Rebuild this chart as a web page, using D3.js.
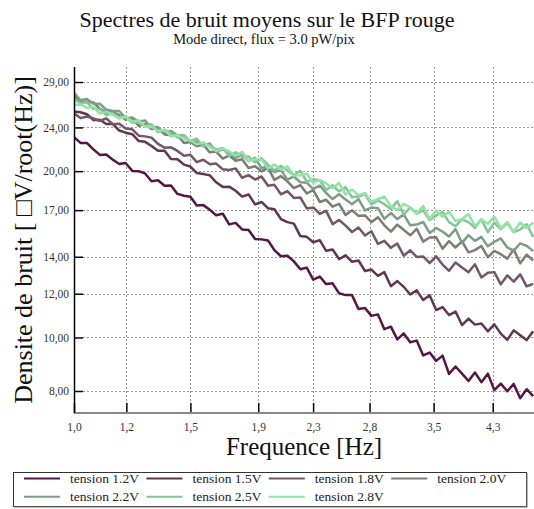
<!DOCTYPE html>
<html>
<head>
<meta charset="utf-8">
<script src="https://cdn.jsdelivr.net/npm/d3@7"></script>
<style>
  body { margin: 0; background: #fff; }
  svg { display: block; }
  text { font-family: "Liberation Serif", "DejaVu Serif", serif; }
</style>
</head>
<body>
<svg id="chart" width="534" height="509"></svg>
<script>
// Frequency bins (Hz), log spaced
const frequencies = [1.000,1.023,1.046,1.070,1.094,1.119,1.145,1.171,1.197,1.225,
  1.253,1.281,1.310,1.340,1.371,1.402,1.434,1.467,1.500,1.534,
  1.569,1.605,1.641,1.679,1.717,1.756,1.796,1.837,1.879,1.922,
  1.966,2.010,2.056,2.103,2.151,2.200,2.250,2.301,2.354,2.407,
  2.462,2.518,2.576,2.634,2.694,2.756,2.818,2.883,2.948,3.016,
  3.084,3.154,3.226,3.300,3.375,3.452,3.531,3.611,3.693,3.777,
  3.864,3.952,4.042,4.134,4.228,4.324,4.423,4.524,4.627,4.732,4.840,4.950];

const tensions = ["tension 1.2V","tension 1.5V","tension 1.8V","tension 2.0V",
  "tension 2.2V","tension 2.5V","tension 2.8V"];

// Mean noise density for each bias voltage
const s12 = [23.04,22.50,22.49,21.90,21.40,21.43,20.98,20.60,20.69,20.02,19.99,19.81,
  19.18,19.26,18.82,18.84,18.19,18.05,17.98,17.34,17.36,17.02,16.64,16.75,
  16.02,16.12,15.69,15.65,15.08,15.05,14.98,14.39,14.03,14.06,13.73,13.29,
  13.38,12.72,12.89,12.49,12.53,12.02,11.93,11.93,11.26,11.31,10.94,11.01,
  10.35,10.46,9.92,10.17,9.80,9.87,9.28,9.39,9.07,9.27,8.59,8.86,
  8.60,8.34,8.64,8.30,8.60,8.03,8.25,7.99,8.24,7.76,8.06,7.83];
const s15 = [25.65,25.56,25.36,24.75,24.78,24.35,24.34,23.69,23.48,23.33,22.67,22.60,
  22.21,21.78,21.78,21.04,21.02,20.55,20.39,19.84,19.76,19.65,19.09,18.73,
  18.75,18.43,17.99,18.15,17.41,17.59,17.13,17.06,16.38,16.17,16.07,15.26,
  15.21,14.87,15.00,14.35,14.43,13.86,14.08,13.71,13.78,13.19,13.27,12.93,
  13.13,12.38,12.65,12.35,11.96,12.17,11.69,11.92,11.21,11.35,10.98,11.14,
  10.53,10.82,10.55,10.60,10.26,10.56,10.16,9.90,10.30,10.09,9.89,10.26];
const s18 = [25.45,24.95,25.11,24.91,24.66,24.91,24.32,24.38,23.90,23.81,23.19,23.12,
  23.00,22.41,22.05,22.09,21.76,21.32,21.41,20.77,20.97,20.58,20.64,20.16,
  20.09,20.23,19.46,19.67,19.31,19.56,18.82,18.89,18.16,18.41,17.89,17.92,
  17.12,17.19,16.73,16.95,16.04,16.32,15.94,15.52,15.81,15.29,15.57,14.77,
  14.96,14.53,14.79,14.06,14.38,13.99,14.02,13.63,14.02,13.55,13.20,13.67,
  13.39,13.12,13.57,12.84,13.10,13.13,12.48,12.95,12.62,13.01,12.37,12.50];
const s20 = [27.42,26.74,26.71,26.63,25.95,25.53,25.60,25.25,24.79,24.95,24.15,24.35,
  23.85,23.91,23.31,23.22,23.24,22.49,22.58,22.20,22.33,21.63,21.70,21.08,
  21.35,20.88,21.02,20.26,20.41,19.98,20.27,19.28,19.59,19.17,18.63,18.87,
  18.22,18.49,17.59,17.75,17.25,17.45,16.66,16.99,16.60,16.63,16.17,16.50,
  15.96,15.54,16.00,15.66,15.31,15.73,14.91,15.17,15.18,14.48,14.94,14.55,
  14.93,14.26,14.39,14.64,13.97,14.34,14.15,13.89,14.43,13.62,14.12,13.78];
const s22 = [27.71,26.87,27.03,26.49,26.49,25.84,25.69,25.70,24.94,25.01,24.60,24.70,
  23.96,24.03,23.41,23.64,23.20,23.24,22.56,22.63,22.25,22.44,21.67,21.92,
  21.61,21.14,21.43,20.85,21.13,20.25,20.42,19.92,20.11,19.31,19.56,19.10,
  19.06,18.56,18.84,18.26,17.80,18.16,17.77,17.42,17.80,16.99,17.18,17.14,
  16.39,16.80,16.37,16.71,15.96,16.01,16.18,15.46,15.78,15.55,15.23,15.71,
  14.83,15.32,14.96,15.21,14.62,14.90,15.11,14.55,14.36,14.80,14.65,14.33];
const s25 = [26.99,26.57,26.66,25.91,25.93,25.27,25.45,25.04,25.10,24.45,24.51,24.13,
  24.31,23.53,23.77,23.44,23.01,23.19,22.68,22.89,22.16,22.28,21.88,22.03,
  21.30,21.64,21.23,21.25,20.75,21.10,20.52,20.05,20.45,20.06,19.66,20.03,
  19.15,19.33,19.26,18.48,18.86,18.39,18.69,17.94,17.99,18.16,17.41,17.70,
  17.43,17.09,17.64,16.68,17.19,16.75,16.99,16.32,16.63,16.86,16.17,15.90,
  16.35,16.17,15.79,16.37,15.50,16.13,15.71,16.11,15.51,15.68,16.03,15.21];
const s28 = [26.37,26.41,26.03,26.17,25.42,25.63,25.30,24.90,25.06,24.58,24.73,24.03,
  24.10,23.67,23.75,23.11,23.24,22.84,22.75,22.36,22.55,22.11,21.75,22.00,
  21.70,21.33,21.69,20.86,21.03,20.97,20.22,20.57,20.13,20.40,19.65,19.66,
  19.79,19.05,19.28,19.00,18.64,19.03,18.14,18.52,18.10,18.26,17.61,17.81,
  17.99,17.29,17.00,17.44,17.20,16.77,17.29,16.39,16.98,16.53,16.88,16.25,
  16.38,16.73,15.91,16.35,16.06,16.55,15.77,16.17,15.53,16.15,15.78,16.13];

const seriesValues = [s12, s15, s18, s20, s22, s25, s28];
const colors = ["#551545", "#613651", "#725866", "#7d7c76", "#7f9d86", "#84c598", "#93e3a6"];

const yTicks = [8, 10, 12, 14, 17, 20, 24, 29];
const xTicks = [1.0, 1.2, 1.5, 1.9, 2.3, 2.8, 3.5, 4.3];

const plot = { left: 74, right: 534, top: 67, bottom: 413 };

const svg = d3.select("#chart");

const x = d3.scaleLog().domain([1, 5]).range([74, 536]);
const y = d3.scaleLog().domain([8, 29]).range([391, 82]);

// Titles
svg.append("text").attr("x", 267).attr("y", 27).attr("text-anchor", "middle")
  .attr("font-size", 22).attr("fill", "#111")
  .text("Spectres de bruit moyens sur le BFP rouge");
svg.append("text").attr("x", 264).attr("y", 44).attr("text-anchor", "middle")
  .attr("font-size", 14.5).attr("fill", "#111")
  .text("Mode direct, flux = 3.0 pW/pix");

// Dotted grid
const grid = svg.append("g").attr("stroke", "#999").attr("stroke-width", 1)
  .attr("stroke-dasharray", "2,2");
grid.selectAll("line.h").data(yTicks).join("line").attr("class", "h")
  .attr("x1", plot.left + 9).attr("x2", plot.right)
  .attr("y1", d => Math.round(y(d)) + 0.5).attr("y2", d => Math.round(y(d)) + 0.5);
grid.selectAll("line.v").data(xTicks.filter(d => d > 1)).join("line").attr("class", "v")
  .attr("y1", plot.top).attr("y2", plot.bottom - 10)
  .attr("x1", d => Math.round(x(d)) + 0.5).attr("x2", d => Math.round(x(d)) + 0.5);

// Spectra
svg.append("clipPath").attr("id", "clip").append("rect")
  .attr("x", plot.left).attr("y", plot.top)
  .attr("width", plot.right - plot.left).attr("height", plot.bottom - plot.top);

const line = d3.line().x((d, i) => x(frequencies[i])).y(d => y(d));
svg.append("g").attr("clip-path", "url(#clip)")
  .selectAll("path").data(seriesValues).join("path")
  .attr("d", line)
  .attr("fill", "none")
  .attr("stroke", (d, i) => colors[i])
  .attr("stroke-width", 2.5)
  .attr("stroke-linejoin", "round");

// Axes
const fmtY = d => d3.format(".2f")(d).replace(".", ",");
const fmtX = d => d3.format(".1f")(d).replace(".", ",");

const yAxis = svg.append("g").attr("transform", `translate(${plot.left},0)`)
  .call(d3.axisLeft(y).tickValues(yTicks).tickFormat(fmtY).tickSize(-9).tickPadding(5));
yAxis.select(".domain").remove();
yAxis.selectAll(".tick line").attr("stroke", "#000").attr("stroke-width", 1.5);
yAxis.selectAll(".tick text").attr("font-size", 11.5).attr("fill", "#333")
  .attr("font-family", "Liberation Serif, serif");

const xAxis = svg.append("g").attr("transform", `translate(0,${plot.bottom})`)
  .call(d3.axisBottom(x).tickValues(xTicks).tickFormat(fmtX).tickSize(-10).tickPadding(10));
xAxis.select(".domain").remove();
xAxis.selectAll(".tick line").attr("stroke", "#000").attr("stroke-width", 1.5);
xAxis.selectAll(".tick text").attr("font-size", 11.5).attr("fill", "#333")
  .attr("font-family", "Liberation Serif, serif");

svg.append("line").attr("x1", plot.left).attr("x2", plot.right)
  .attr("y1", plot.bottom).attr("y2", plot.bottom)
  .attr("stroke", "#888").attr("stroke-width", 2);
svg.append("line").attr("x1", plot.left + 0.5).attr("x2", plot.left + 0.5)
  .attr("y1", plot.top).attr("y2", plot.bottom)
  .attr("stroke", "#000").attr("stroke-width", 1.5);

// Axis titles
svg.append("text").attr("x", 304).attr("y", 455).attr("text-anchor", "middle")
  .attr("font-size", 25).attr("fill", "#111").text("Frequence [Hz]");
svg.append("text")
  .attr("transform", `translate(32,${(plot.top + plot.bottom) / 2}) rotate(-90)`)
  .attr("text-anchor", "middle").attr("font-size", 26).attr("fill", "#111")
  .text("Densite de bruit [ \u25A1V/root(Hz)]");

// Legend
const legend = svg.append("g");
legend.append("rect").attr("x", 13.5).attr("y", 472.5).attr("width", 513).attr("height", 34)
  .attr("fill", "#fff").attr("stroke", "#333").attr("stroke-width", 1);
legend.append("line").attr("x1", 14).attr("x2", 527).attr("y1", 507).attr("y2", 507)
  .attr("stroke", "#777").attr("stroke-width", 1);
legend.append("line").attr("x1", 527).attr("x2", 527).attr("y1", 473).attr("y2", 507.5)
  .attr("stroke", "#777").attr("stroke-width", 1);

const items = legend.selectAll("g.item").data(tensions).join("g").attr("class", "item")
  .attr("transform", (d, i) => `translate(${24 + (i % 4) * 122.4},${478.5 + Math.floor(i / 4) * 18.3})`);
items.append("line").attr("x1", 0).attr("x2", 36).attr("y1", 0).attr("y2", 0)
  .attr("stroke", (d, i) => colors[i]).attr("stroke-width", 2);
items.append("text").attr("x", 46).attr("y", 4.5).attr("font-size", 13.5).attr("fill", "#222")
  .text(d => d);
</script>
</body>
</html>
